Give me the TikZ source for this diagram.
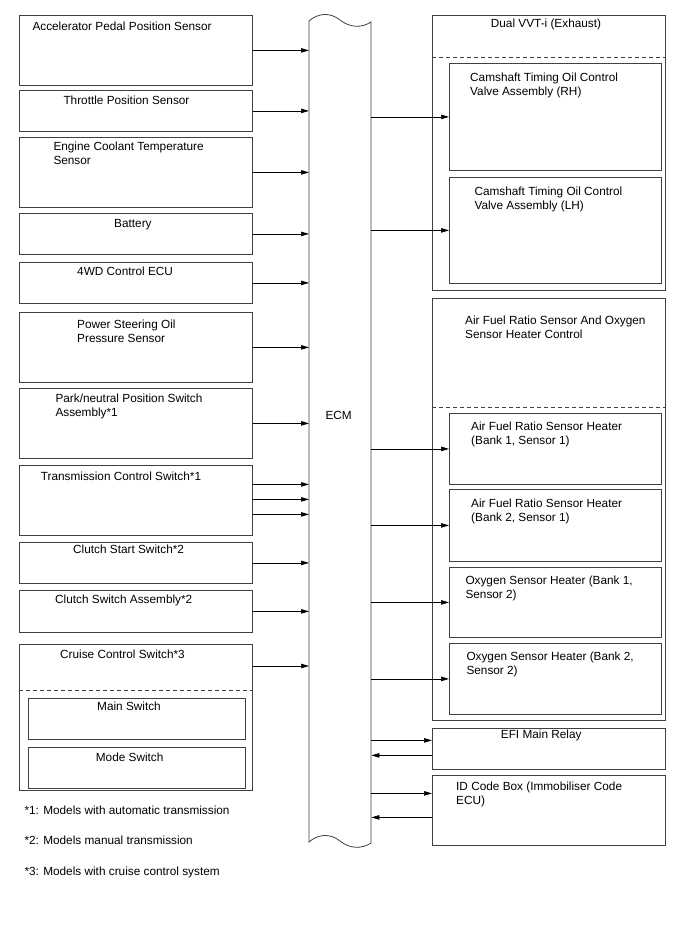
\documentclass[tikz,border=0pt]{standalone}
\usepackage{fontspec}
\setmainfont{Liberation Sans}
\usetikzlibrary{arrows.meta,calc}
\definecolor{linecol}{gray}{0.25}
\begin{document}
\begin{tikzpicture}[x=1pt,y=-1pt,
  box/.style={draw=linecol,line width=0.8pt,rectangle,inner sep=0pt,anchor=north west},
  txt/.style={inner sep=0pt,anchor=north west,align=left,font=\fontsize{11.8}{14}\selectfont},
  arr/.style={draw=black,line width=0.7pt,-{Triangle[length=8pt,width=4.5pt]}},
  dash line/.style={draw=linecol,line width=0.8pt,dash pattern=on 4pt off 3pt}]
\useasboundingbox (0,0) rectangle (688,949);
\fill[white] (0,0) rectangle (688,949);

% ---------- left boxes ----------
\node[box,minimum width=233pt,minimum height=70pt] (acc) at (19,15) {};
\node[box,minimum width=233pt,minimum height=41pt] (thr) at (19,90) {};
\node[box,minimum width=233pt,minimum height=70pt] (ect) at (19,137) {};
\node[box,minimum width=233pt,minimum height=41pt] (bat) at (19,213) {};
\node[box,minimum width=233pt,minimum height=41pt] (fwd) at (19,262) {};
\node[box,minimum width=233pt,minimum height=70pt] (pso) at (19,312) {};
\node[box,minimum width=233pt,minimum height=70pt] (pnp) at (19,388) {};
\node[box,minimum width=233pt,minimum height=70pt] (tcs) at (19,465) {};
\node[box,minimum width=233pt,minimum height=41pt] (css) at (19,542) {};
\node[box,minimum width=233pt,minimum height=42pt] (csa) at (19,590) {};
\node[box,minimum width=233pt,minimum height=146pt] (ccs) at (19,644) {};
\draw[dash line] (19,690) -- (252,690);
\node[box,minimum width=217pt,minimum height=41pt] (msw) at (28,698) {};
\node[box,minimum width=217pt,minimum height=41pt] (mdsw) at (28,747) {};

\node[txt] (acct) at (32.3,21.5) {Accelerator Pedal Position Sensor};
\node[txt] (thrt) at (63.3,96) {Throttle Position Sensor};
\node[txt] (ectt) at (53.3,141.5) {Engine Coolant Temperature\\Sensor};
\node[txt] (batt) at (114,219) {Battery};
\node[txt] (fwdt) at (77,266.7) {4WD Control ECU};
\node[txt] (psot) at (77,320) {Power Steering Oil\\Pressure Sensor};
\node[txt] (pnpt) at (55.3,393.3) {Park/neutral Position Switch\\Assembly*1};
\node[txt] (tcst) at (40.7,472) {Transmission Control Switch*1};
\node[txt] (csst) at (73,545) {Clutch Start Switch*2};
\node[txt] (csat) at (55,595) {Clutch Switch Assembly*2};
\node[txt] (ccst) at (60,650) {Cruise Control Switch*3};
\node[txt] (mswt) at (97,701.7) {Main Switch};
\node[txt] (mdswt) at (95.7,752.7) {Mode Switch};

\node[txt] (fn1) at (24.3,806) {*1: Models with automatic transmission};
\node[txt] (fn2) at (24.3,836) {*2: Models manual transmission};
\node[txt] (fn3) at (24.3,866.7) {*3: Models with cruise control system};

% ---------- ECM ----------
\node[inner sep=0pt,minimum width=62pt,minimum height=821pt,anchor=north west] (ecm) at (309,21) {};
\draw[linecol,line width=0.8pt]
  (309,21) .. controls (318,13) and (330,12) .. (340,20)
  .. controls (350,28) and (362,28) .. (371,22)
  -- (371,843)
  .. controls (362,849) and (350,849) .. (340,841)
  .. controls (330,833) and (318,834) .. (309,842) -- cycle;
\node[inner sep=0pt,font=\fontsize{11.8}{14}\selectfont] (ecmt) at (338.7,415.7) {ECM};

% ---------- right boxes ----------
\node[box,minimum width=233pt,minimum height=275pt] (vvt) at (432,15) {};
\draw[dash line] (432,57) -- (665,57);
\node[box,minimum width=212pt,minimum height=107pt] (camr) at (449,63) {};
\node[box,minimum width=212pt,minimum height=106pt] (caml) at (449,177) {};

\node[box,minimum width=233pt,minimum height=422pt] (afc) at (432,298) {};
\draw[dash line] (432,407) -- (665,407);
\node[box,minimum width=212pt,minimum height=71pt] (afr1) at (449,413) {};
\node[box,minimum width=212pt,minimum height=72pt] (afr2) at (449,489) {};
\node[box,minimum width=212pt,minimum height=70pt] (oxs1) at (449,567) {};
\node[box,minimum width=212pt,minimum height=71pt] (oxs2) at (449,643) {};

\node[box,minimum width=233pt,minimum height=41pt] (efi) at (432,728) {};
\node[box,minimum width=233pt,minimum height=70pt] (idc) at (432,775) {};

\node[txt] (vvtt) at (490.7,18.5) {Dual VVT-i (Exhaust)};
\node[txt] (camrt) at (470,72.5) {Camshaft Timing Oil Control\\Valve Assembly (RH)};
\node[txt] (camlt) at (474.3,186.8) {Camshaft Timing Oil Control\\Valve Assembly (LH)};
\node[txt] (afct) at (465,315.8) {Air Fuel Ratio Sensor And Oxygen\\Sensor Heater Control};
\node[txt] (afr1t) at (471,421.5) {Air Fuel Ratio Sensor Heater\\(Bank 1, Sensor 1)};
\node[txt] (afr2t) at (471,498.5) {Air Fuel Ratio Sensor Heater\\(Bank 2, Sensor 1)};
\node[txt] (oxs1t) at (465.3,575.8) {Oxygen Sensor Heater (Bank 1,\\Sensor 2)};
\node[txt] (oxs2t) at (466.3,651.5) {Oxygen Sensor Heater (Bank 2,\\Sensor 2)};
\node[txt] (efit) at (500.7,730.1) {EFI Main Relay};
\node[txt] (idct) at (456,781.5) {ID Code Box (Immobiliser Code\\ECU)};

% ---------- connectors: inputs ----------
\foreach \b in {acc,thr,ect,bat,fwd,pso,pnp,css,csa}
  \draw[arr] (\b.east) -- (\b.east -| ecm.west);
\coordinate (tcs1) at ([yshift=16pt]tcs.east);
\coordinate (tcs2) at ([yshift=1pt]tcs.east);
\coordinate (tcs3) at ([yshift=-14pt]tcs.east);
\coordinate (ccs1) at ([yshift=-22pt]ccs.north east);
\foreach \c in {tcs1,tcs2,tcs3,ccs1}
  \draw[arr] (\c) -- (\c -| ecm.west);

% ---------- connectors: outputs ----------
\foreach \b in {camr,caml,afr1,afr2,oxs1,oxs2}
  \draw[arr] (ecm.east |- \b.west) -- (\b.west);
\coordinate (efiin) at ([yshift=8.5pt]efi.west);
\coordinate (efiout) at ([yshift=-6.5pt]efi.west);
\coordinate (idcin) at ([yshift=17pt]idc.west);
\coordinate (idcout) at ([yshift=-7pt]idc.west);
\draw[arr] (ecm.east |- efiin) -- (efiin);
\draw[arr] (efiout) -- (ecm.east |- efiout);
\draw[arr] (ecm.east |- idcin) -- (idcin);
\draw[arr] (idcout) -- (ecm.east |- idcout);
\end{tikzpicture}
\end{document}
